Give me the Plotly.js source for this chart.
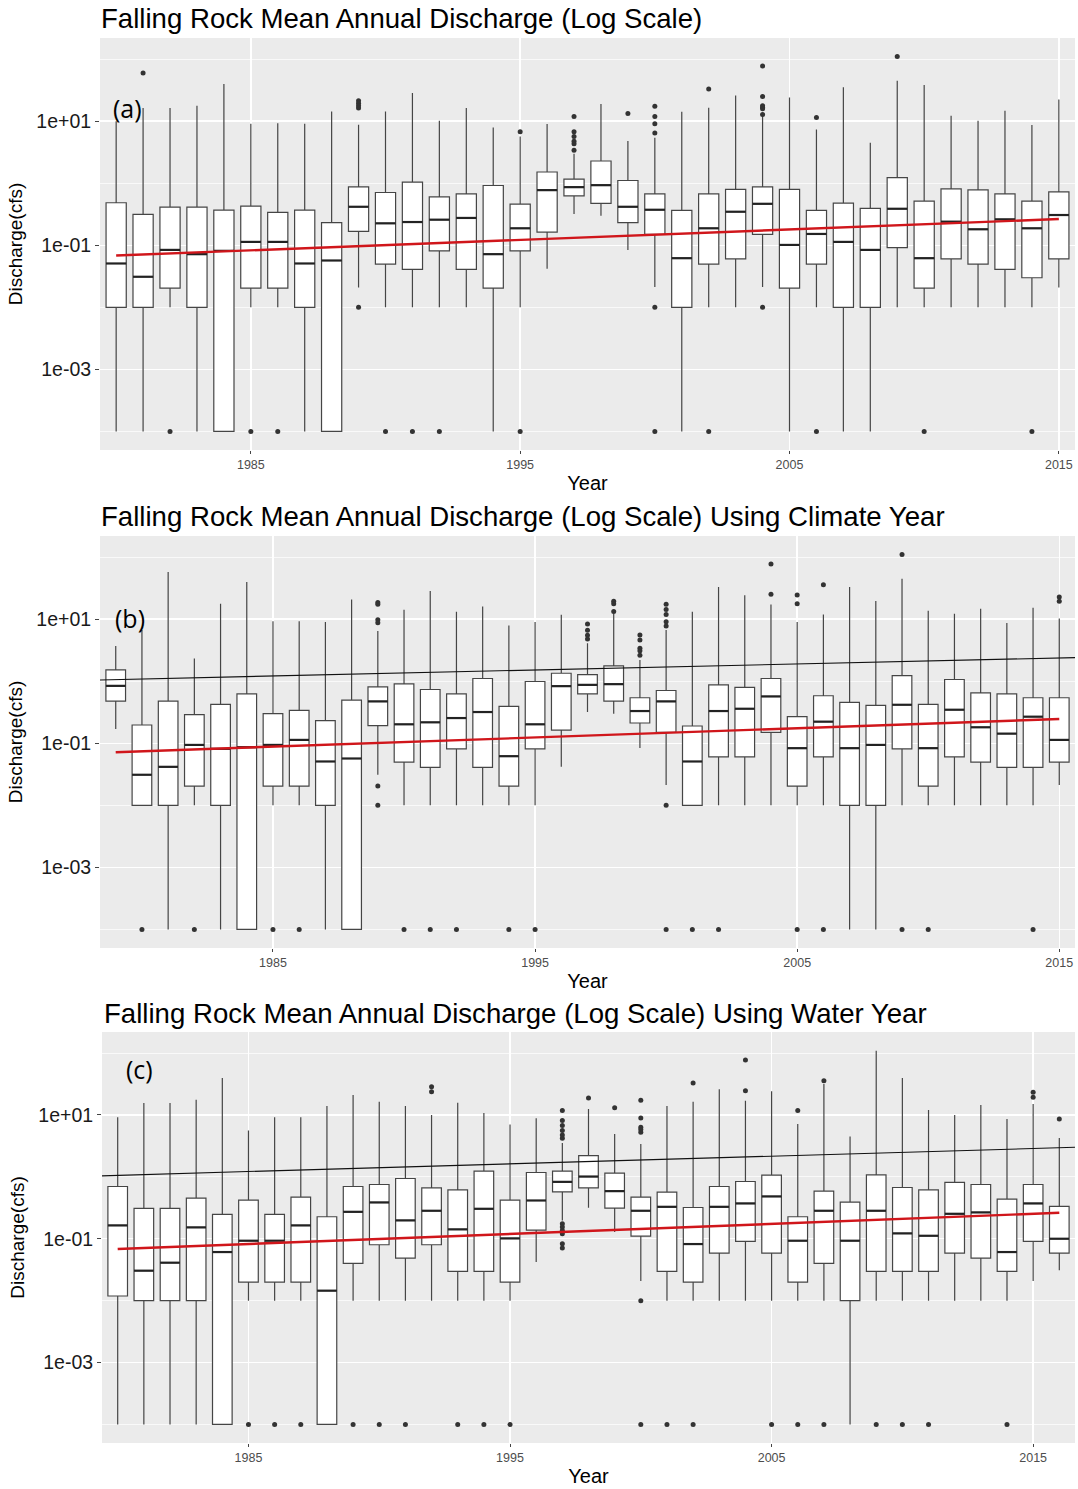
<!DOCTYPE html>
<html><head><meta charset="utf-8">
<script src="https://cdn.plot.ly/plotly-3.0.1.min.js"></script>
<style>html,body{margin:0;padding:0;background:#fff}#chart{width:1078px;height:1489px}</style>
</head><body><div id="chart"></div>
<script>
// All discharge values below are log10(discharge in cfs).
// ---------- Panel (a): calendar year ----------
const yearsA = [1980,1981,1982,1983,1984,1985,1986,1987,1988,1989,1990,1991,1992,1993,1994,1995,1996,1997,1998,1999,2000,2001,2002,2003,2004,2005,2006,2007,2008,2009,2010,2011,2012,2013,2014,2015];
const upperA = [1.0,1.21,1.21,1.25,1.6,0.957,0.968,0.957,1.155,0.94, 1.155,1.455,1.005,1.21,0.898,0.754,0.952,0.476,1.278,0.679, 0.733,1.15,1.214,1.412,1.09,1.38,0.866,1.545,0.652,1.652, 1.583,1.086,1.005,1.166,0.936,1.348];
const q3A = [-0.315,-0.503,-0.385,-0.385,-0.433,-0.369,-0.47,-0.433,-0.636,-0.059, -0.15,0.016,-0.22,-0.171,-0.037,-0.337,0.18,0.064,0.358,0.043, -0.171,-0.439,-0.171,-0.10,-0.059,-0.10,-0.439,-0.32,-0.406,0.091, -0.289,-0.091,-0.107,-0.171,-0.289,-0.139];
const medA = [-1.294,-1.508,-1.075,-1.144,-1.09,-0.946,-0.946,-1.294,-1.246,-0.38, -0.647,-0.626,-0.588,-0.56,-1.144,-0.727,-0.112,-0.064,-0.032,-0.38, -0.428,-1.209,-0.727,-0.46,-0.332,-0.995,-0.818,-0.946,-1.075,-0.412, -1.209,-0.62,-0.743,-0.583,-0.727,-0.513];
const q1A = [-2,-2,-1.69,-2,-4,-1.69,-1.69,-2,-4,-0.775, -1.305,-1.39,-1.09,-1.39,-1.69,-1.09,-0.79,-0.203,-0.326,-0.636, -0.824,-2,-1.305,-1.22,-0.824,-1.69,-1.305,-2,-2,-1.037, -1.69,-1.22,-1.305,-1.39,-1.524,-1.22];
const lowerA = [-4,-4,-2,-4,-4,-2,-2,-4,-4,-1.68, -2,-2,-2,-2,-4,-2,-1.38,-0.497,-0.524,-1.075, -1.674,-4,-2,-2,-1.674,-4,-2,-4,-4,-2, -2,-2,-2,-2,-2,-1.68];
const outXA = [1981,1982,1985,1986,1989,1989,1989,1989,1989,1990,1991,1992,1995,1995,1997,1997,1997,1997,1997,1997,1999,2000,2000,2000,2000,2000,2000,2002,2002,2004,2004,2004,2004,2004,2004,2004,2006,2006,2009,2010,2014];
const outYA = [1.775,-4,-4,-4,1.33,1.29,1.25,1.21,-2,-4,-4,-4,0.83,-4,1.075,0.83,0.754,0.674,0.636,0.53,1.123,1.24,1.075,0.957,0.807,-2,-4,1.52,-4,1.888,1.396,1.25,1.225,1.2,1.107,-2,1.06,-4,2.04,-4,-4];
const trendXA = [1980,2015], trendYA = [-1.166,-0.578];

// ---------- Panel (b): climate year ----------
const yearsB = [1979,1980,1981,1982,1983,1984,1985,1986,1987,1988,1989,1990,1991,1992,1993,1994,1995,1996,1997,1998,1999,2000,2001,2002,2003,2004,2005,2006,2007,2008,2009,2010,2011,2012,2013,2014,2015];
const upperB = [0.567, 0.824,1.76,0.364,1.25,1.6,0.968,0.968,0.952,1.316,0.807, 1.15,1.455,1.118,1.203,0.898,0.952,1.07,0.61,1.09,0.342, 0.824,1.118,1.52,1.385,1.235,0.952,1.075,1.52,1.294,1.652, 1.134,1.086,1.166,0.936,1.182,1.011];
const q3B = [0.182, -0.706,-0.321,-0.54,-0.374,-0.203,-0.524,-0.47,-0.636,-0.305,-0.091, -0.043,-0.134,-0.203,0.043,-0.406,-0.005,0.128,0.107,0.246,-0.267, -0.15,-0.722,-0.059,-0.10,0.043,-0.572,-0.235,-0.342,-0.39,0.091, -0.374,0.027,-0.187,-0.203,-0.267,-0.267];
const medB = [-0.075, -1.508,-1.38,-1.027,-1.09,-1.064,-1.027,-0.946,-1.294,-1.246,-0.326, -0.695,-0.663,-0.594,-0.497,-1.209,-0.695,-0.08,-0.059,-0.048,-0.481, -0.326,-1.294,-0.481,-0.444,-0.246,-1.08,-0.652,-1.08,-1.027,-0.38, -1.08,-0.46,-0.743,-0.845,-0.572,-0.946];
const q1B = [-0.321, -2,-2,-1.69,-2,-4,-1.69,-1.69,-2,-4,-0.717, -1.305,-1.39,-1.09,-1.39,-1.69,-1.09,-0.79,-0.203,-0.321,-0.674, -0.824,-2,-1.22,-1.22,-0.824,-1.69,-1.22,-2,-2,-1.09, -1.69,-1.22,-1.305,-1.39,-1.39,-1.305];
const lowerB = [-0.77, -2,-4,-2,-4,-4,-2,-2,-4,-4,-1.508, -2,-2,-2,-2,-2,-2,-1.38,-0.497,-0.524,-1.075, -1.674,-2,-2,-2,-2,-2,-2,-4,-4,-2, -2,-2,-2,-2,-2,-1.674];
const outXB = [1980,1982,1985,1986,1989,1989,1989,1989,1989,1989,1990,1991,1992,1994,1995,1997,1997,1997,1997,1998,1998,1998,1999,1999,1999,1999,1999,2000,2000,2000,2000,2000,2000,2000,2001,2002,2004,2004,2005,2005,2005,2006,2006,2009,2009,2010,2014,2015,2015];
const outYB = [-4,-4,-4,-4,1.27,1.24,0.99,0.94,-1.69,-2,-4,-4,-4,-4,-4,0.92,0.82,0.74,0.68,1.29,1.25,1.123,0.743,0.663,0.53,0.49,0.42,1.24,1.155,1.075,0.957,0.888,-2,-4,-4,-4,1.888,1.4,1.39,1.25,-4,1.556,-4,2.04,-4,-4,-4,1.358,1.29];
const trendXB = [1979,2015], trendYB = [-1.144,-0.61];
const refXB = [1978.4,2015.6], refYB = [0.02,0.38];

// ---------- Panel (c): water year ----------
const yearsC = [1980,1981,1982,1983,1984,1985,1986,1987,1988,1989,1990,1991,1992,1993,1994,1995,1996,1997,1998,1999,2000,2001,2002,2003,2004,2005,2006,2007,2008,2009,2010,2011,2012,2013,2014,2015,2016];
const upperC = [0.962,1.194,1.194,1.247,1.597,0.747,0.962,0.962,1.145,1.323, 1.215,1.145,1.0,1.199,1.032,0.844,0.946,0.548,1.097,0.694, 0.532,1.145,1.215,1.414,1.231,1.382,0.855,1.5,0.651,2.038, 1.597,1.081,1.0,1.161,0.935,1.177,0.629];
const q3C = [-0.156,-0.511,-0.511,-0.344,-0.608,-0.376,-0.608,-0.328,-0.645,-0.156, -0.124,-0.027,-0.177,-0.21,0.091,-0.376,0.07,0.091,0.344,0.059, -0.328,-0.247,-0.495,-0.156,-0.075,0.027,-0.645,-0.231,-0.409,0.032, -0.172,-0.21,-0.091,-0.124,-0.36,-0.124,-0.478];
const medC = [-0.785,-1.516,-1.387,-0.817,-1.215,-1.032,-1.032,-0.785,-1.839,-0.565, -0.414,-0.704,-0.548,-0.849,-0.516,-0.995,-0.382,-0.081,0.005,-0.231, -0.548,-0.484,-1.086,-0.484,-0.43,-0.317,-1.032,-0.548,-1.032,-0.548, -0.914,-0.952,-0.597,-0.575,-1.215,-0.43,-1.0];
const q1C = [-1.925,-2,-2,-2,-4,-1.7,-1.7,-1.7,-4,-1.398, -1.097,-1.312,-1.097,-1.527,-1.527,-1.7,-0.86,-0.242,-0.177,-0.505, -0.957,-1.527,-1.7,-1.231,-1.043,-1.231,-1.7,-1.398,-2,-1.527, -1.527,-1.527,-1.231,-1.312,-1.527,-1.043,-1.231];
const lowerC = [-4,-4,-4,-4,-4,-2,-2,-2,-4,-2, -2,-2,-2,-2,-2,-2,-1.376,-0.704,-0.5,-0.892, -1.683,-2,-2,-2,-2,-2,-2,-2,-4,-2, -2,-2,-2,-2,-2,-1.683,-1.511];
const outXC = [1985,1986,1987,1989,1990,1991,1992,1992,1993,1994,1995,1997,1997,1997,1997,1997,1997,1997,1997,1997,1997,1997,1997,1998,1999,2000,2000,2000,2000,2000,2000,2000,2001,2002,2002,2004,2004,2005,2006,2006,2007,2007,2009,2010,2011,2014,2015,2015,2016];
const outYC = [-4,-4,-4,-4,-4,-4,1.457,1.376,-4,-4,-4,1.07,0.909,0.828,0.747,0.677,0.624,-0.758,-0.812,-0.866,-0.919,-1.08,-1.15,1.274,1.118,1.237,0.952,0.801,0.763,0.72,-2,-4,-4,1.516,-4,1.887,1.392,-4,1.07,-4,1.554,-4,-4,-4,-4,-4,1.366,1.285,0.935];
const trendXC = [1980,2016], trendYC = [-1.167,-0.581];
const refXC = [1979.4,2016.6], refYC = [0.016,0.478];

const xTickVals = [1985,1995,2005,2015];
const yTickVals = [0.001,0.1,10];
const yTickText = ['1e-03','1e-01','1e+01'];
const titles = ['Falling Rock Mean Annual Discharge (Log Scale)',
                'Falling Rock Mean Annual Discharge (Log Scale) Using Climate Year',
                'Falling Rock Mean Annual Discharge (Log Scale) Using Water Year'];
const panelLabels = ['(a)','(b)','(c)'];

// ---------- build ----------
const P = v => Math.pow(10, v);
const FONT = 'Liberation Sans, Arial, sans-serif';
const W = 1078, H = 1489;
const BOXW = 0.75;
const traces = [];

function addPanel(k, yrs, up, q3, md, q1, lo, ox, oy, tx, ty, rx, ry) {
  const xa = k === 1 ? 'x' : 'x' + k, ya = k === 1 ? 'y' : 'y' + k;
  traces.push({type:'box', x: yrs, upperfence: up.map(P), q3: q3.map(P), median: md.map(P),
    q1: q1.map(P), lowerfence: lo.map(P), xaxis: xa, yaxis: ya, width: BOXW,
    fillcolor:'#ffffff', line:{color:'#454545', width:1.2}, whiskerwidth:0,
    boxpoints:false, hoverinfo:'skip', showlegend:false});
  const mx = [], my = [];
  yrs.forEach((y, i) => { mx.push(y - BOXW/2, y + BOXW/2, null); my.push(P(md[i]), P(md[i]), null); });
  traces.push({type:'scatter', mode:'lines', x: mx, y: my, xaxis: xa, yaxis: ya,
    line:{color:'#222', width:2.2}, hoverinfo:'skip', showlegend:false});
  traces.push({type:'scatter', mode:'markers', x: ox, y: oy.map(P), xaxis: xa, yaxis: ya,
    marker:{color:'#333', size:5}, hoverinfo:'skip', showlegend:false});
  if (rx) traces.push({type:'scatter', mode:'lines', x: rx, y: ry.map(P), xaxis: xa, yaxis: ya,
    line:{color:'#111', width:1.1}, hoverinfo:'skip', showlegend:false});
  traces.push({type:'scatter', mode:'lines', x: tx, y: ty.map(P), xaxis: xa, yaxis: ya,
    line:{color:'#d0161b', width:2.4}, hoverinfo:'skip', showlegend:false});
}
addPanel(1, yearsA, upperA, q3A, medA, q1A, lowerA, outXA, outYA, trendXA, trendYA, null, null);
addPanel(2, yearsB, upperB, q3B, medB, q1B, lowerB, outXB, outYB, trendXB, trendYB, refXB, refYB);
addPanel(3, yearsC, upperC, q3C, medC, q1C, lowerC, outXC, outYC, trendXC, trendYC, refXC, refYC);

// panel pixel boxes [left, right, top, bottom]
const boxes = [[100,1075,38,450],[100,1075,536,948],[102,1075,1032,1443]];
const xr = [[1979.4,2015.6],[1978.4,2015.6],[1979.4,2016.6]];
const layout = {width:W, height:H, margin:{l:0,r:0,t:0,b:0}, paper_bgcolor:'#fff', plot_bgcolor:'#EBEBEB',
  font:{family:FONT, color:'#000'}, showlegend:false, annotations:[]};
const titleY = [18, 517, 1013], titleX = [99, 99, 102];
const labPos = [[127,108],[130,618],[139,1069]];
boxes.forEach((b, i) => {
  const k = i + 1, xs = k === 1 ? '' : k;
  layout['xaxis' + xs] = {domain:[b[0]/W, b[1]/W], range: xr[i], anchor: 'y' + xs,
    tickmode:'array', tickvals: xTickVals, ticktext: xTickVals.map(String),
    showgrid:true, gridcolor:'#fff', gridwidth:1.4, zeroline:false, showline:false,
    ticks:'outside', ticklen:3, tickwidth:1, tickcolor:'#444',
    tickfont:{size:12.5, color:'#4d4d4d', family:FONT},
    title:{text:'Year', font:{size:20, color:'#000', family:FONT}, standoff:4}, fixedrange:true};
  layout['yaxis' + xs] = {domain:[1 - b[3]/H, 1 - b[2]/H], type:'log', range:[-4.30, 2.34], anchor:'x' + xs,
    tickmode:'array', tickvals: yTickVals, ticktext: yTickText,
    showgrid:true, gridcolor:'#fff', gridwidth:1.4, zeroline:false, showline:false,
    ticks:'outside', ticklen:4, tickwidth:1, tickcolor:'#444',
    tickfont:{size:19.5, color:'#1a1a1a', family:FONT},
    minor:{tickmode:'array', tickvals:[1e-4,1e-2,1,100], showgrid:true, gridcolor:'#fff', gridwidth:0.7, ticks:''},
    title:{text:'Discharge(cfs)', font:{size:19, color:'#000', family:FONT}, standoff:8}, fixedrange:true};
  layout.annotations.push({text: titles[i], xref:'paper', yref:'paper', x: titleX[i]/W, y: 1 - titleY[i]/H,
    xanchor:'left', yanchor:'middle', showarrow:false, font:{size:27.6, color:'#000', family:FONT}});
  layout.annotations.push({text: panelLabels[i], xref:'paper', yref:'paper', x: labPos[i][0]/W, y: 1 - labPos[i][1]/H,
    xanchor:'center', yanchor:'middle', showarrow:false, font:{size:25, color:'#000', family:'Open Sans, sans-serif'}});
});
Plotly.newPlot('chart', traces, layout, {staticPlot:true, displayModeBar:false});
</script>
</body></html>
